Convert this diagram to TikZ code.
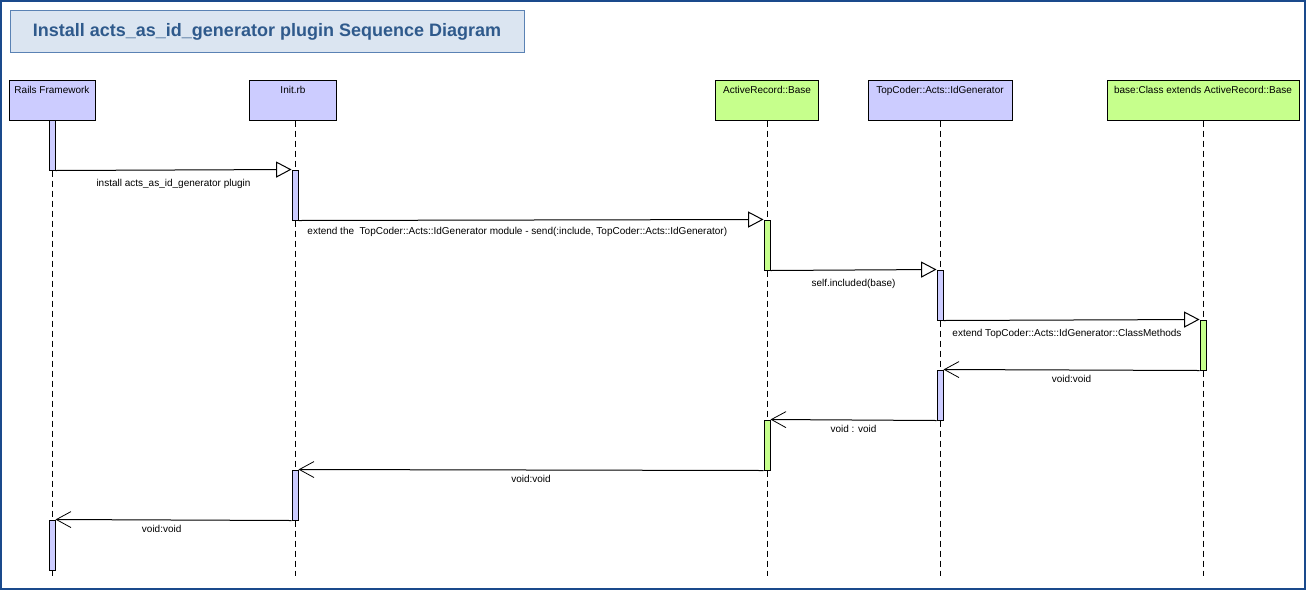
\documentclass[tikz,border=0pt]{standalone}
\usepackage{fontspec}
\setmainfont{Liberation Sans}
\usetikzlibrary{arrows.meta,positioning}
\definecolor{framecol}{HTML}{1A4A8C}
\definecolor{titlefill}{HTML}{DBE5F1}
\definecolor{titledraw}{HTML}{5A82B4}
\definecolor{titletext}{HTML}{2F5A8C}
\definecolor{blueobj}{HTML}{CCCCFF}
\definecolor{greenobj}{HTML}{C6FF8C}
\begin{document}
\begin{tikzpicture}[x=0.75pt,y=-0.75pt,font=\fontsize{7.5}{9}\selectfont]
\tikzset{head/.style = {shape=rectangle,draw,line width=0.75pt,minimum height=30pt,inner sep=0pt}}
\tikzset{headtext/.style = {anchor=north,yshift=-5pt,inner sep=0pt}}
\tikzset{bar/.style = {shape=rectangle,draw,line width=0.75pt,minimum width=4.5pt,minimum height=37.5pt,inner sep=0pt}}
\tikzset{life/.style = {dash pattern=on 4.5pt off 3pt,line width=0.75pt}}
\tikzset{call/.style = {-{Triangle[fill=white,length=11.5pt,width=12pt,line width=0.75pt]},line width=0.75pt}}
\tikzset{reply/.style = {-{Straight Barb[length=11pt,width=12pt,line width=0.6pt]},line width=0.75pt}}
\useasboundingbox (0,0) rectangle (1306,590);
% FRAME AND TITLE
\draw[framecol,line width=1.2pt] (0.75,0.75) rectangle (1305.25,589.25);
\node[draw=titledraw,fill=titlefill,line width=0.75pt,minimum width=385.5pt,minimum height=32pt,
  text=titletext,font=\fontsize{13.5}{16}\selectfont\bfseries] (title) at (267,31.5)
  {Install acts\_as\_id\_generator plugin Sequence Diagram};
% HEADS
\node[head,fill=blueobj,minimum width=64.5pt,label={[headtext]north:Rails Framework}] (rails) at (52,100) {};
\node[head,fill=blueobj,minimum width=65pt,label={[headtext]north:Init.rb}] (init) at (293,100) {};
\node[head,fill=greenobj,minimum width=77pt,label={[headtext]north:ActiveRecord::Base}] (ar) at (767,100) {};
\node[head,fill=blueobj,minimum width=108pt,label={[headtext]north:TopCoder::Acts::IdGenerator}] (tc) at (940,100) {};
\node[head,fill=greenobj,minimum width=144pt,label={[headtext]north:base:Class extends ActiveRecord::Base}] (base) at (1203,100) {};
% LIFELINES
\coordinate (railsend) at (52,576);
\coordinate (initend) at (295,576);
\coordinate (arend) at (767,576);
\coordinate (tcend) at (940,576);
\coordinate (baseend) at (1203,576);
\draw[life] (rails.south) -- (railsend);
\draw[life] (init.south -| initend) -- (initend);
\draw[life] (ar.south) -- (arend);
\draw[life] (tc.south) -- (tcend);
\draw[life] (base.south) -- (baseend);
% ACTIVATIONS
\node[bar,fill=blueobj] (railsA) at (52,145) {};
\node[bar,fill=blueobj] (initA) at (295,195) {};
\node[bar,fill=greenobj] (arA) at (767,245) {};
\node[bar,fill=blueobj] (tcA) at (940,295) {};
\node[bar,fill=greenobj] (baseA) at (1203,345) {};
\node[bar,fill=blueobj] (tcB) at (940,395) {};
\node[bar,fill=greenobj] (arB) at (767,445) {};
\node[bar,fill=blueobj] (initB) at (295,495) {};
\node[bar,fill=blueobj] (railsB) at (52,545) {};
% CALLS
\draw[call] (railsA.south east) to node[below,yshift=-3pt] {install acts\_as\_id\_generator plugin} (initA.north west);
\draw[call] (initA.south east) to node[below right,pos=0,xshift=3pt,yshift=-1pt] {extend the~ TopCoder::Acts::IdGenerator module - send(:include, TopCoder::Acts::IdGenerator)} (arA.north west);
\draw[call] (arA.south east) to node[below,yshift=-3pt] {self.included(base)} (tcA.north west);
\draw[call] (tcA.south east) to node[below right,pos=0,xshift=3pt,yshift=-3pt] {extend TopCoder::Acts::IdGenerator::ClassMethods} (baseA.north west);
% REPLIES
\draw[reply] (baseA.south west) to node[below] {void:void} (tcB.north east);
\draw[reply] (tcB.south west) to node[below] {void : void} (arB.north east);
\draw[reply] (arB.south west) to node[below] {void:void} (initB.north east);
\draw[reply] (initB.south west) to node[below,pos=0.55] {void:void} (railsB.north east);
\end{tikzpicture}
\end{document}
